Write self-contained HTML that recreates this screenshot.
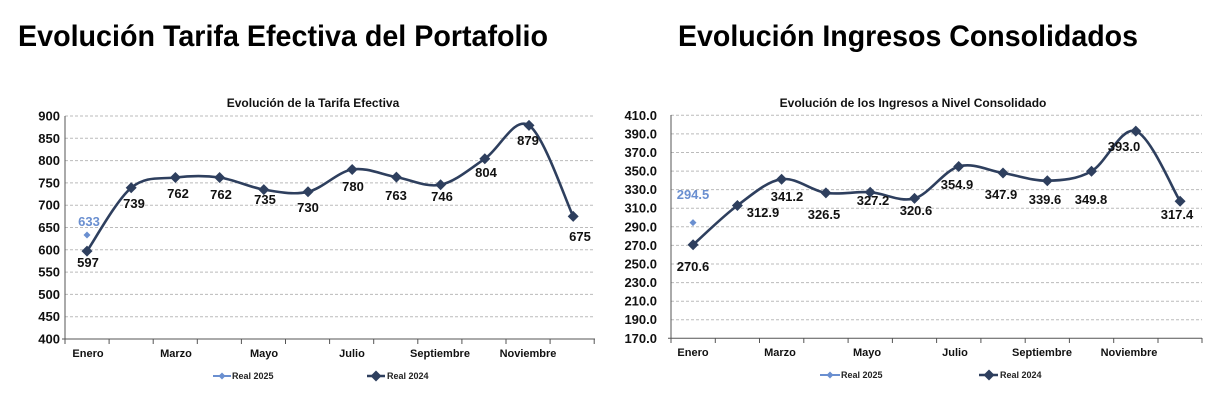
<!DOCTYPE html>
<html><head><meta charset="utf-8"><style>
html,body{margin:0;padding:0;background:#fff}
svg{display:block;font-family:"Liberation Sans",Arial,sans-serif}
.big{font-size:30px;font-weight:bold;fill:#000}
.ct{font-size:12px;font-weight:bold;fill:#111;text-anchor:middle}
.yl{font-size:13px;font-weight:bold;fill:#111;text-anchor:end}
.xl{font-size:11px;font-weight:bold;fill:#111;text-anchor:middle}
.dl{font-size:13px;font-weight:bold;fill:#111;text-anchor:middle}
.bl{font-size:13px;font-weight:bold;fill:#6A8FD0;text-anchor:middle}
.lg{font-size:9px;font-weight:bold;fill:#222}
.g{stroke:#bbb;stroke-width:1;stroke-dasharray:3,2}
.ax{stroke:#555;stroke-width:1}
.ln{fill:none;stroke:#2E3F5E;stroke-width:2.6}
.d{fill:#2E3F5E}
</style></head><body>
<svg width="1218" height="408" viewBox="0 0 1218 408">
<defs><path id="dm" d="M0,-5.5 L5.5,0 L0,5.5 L-5.5,0Z"/><path id="ds" d="M0,-3.5 L3.5,0 L0,3.5 L-3.5,0Z"/></defs>
<text class="big" x="18" y="46" textLength="530" lengthAdjust="spacingAndGlyphs">Evolución Tarifa Efectiva del Portafolio</text>
<text class="big" x="678" y="46" textLength="460" lengthAdjust="spacingAndGlyphs">Evolución Ingresos Consolidados</text>

<!-- LEFT CHART -->
<text class="ct" x="313" y="107">Evolución de la Tarifa Efectiva</text>
<g>
<line class="g" x1="65" x2="595" y1="116" y2="116"/><line class="g" x1="65" x2="595" y1="138.3" y2="138.3"/><line class="g" x1="65" x2="595" y1="160.6" y2="160.6"/><line class="g" x1="65" x2="595" y1="182.9" y2="182.9"/><line class="g" x1="65" x2="595" y1="205.2" y2="205.2"/><line class="g" x1="65" x2="595" y1="227.5" y2="227.5"/><line class="g" x1="65" x2="595" y1="249.8" y2="249.8"/><line class="g" x1="65" x2="595" y1="272.1" y2="272.1"/><line class="g" x1="65" x2="595" y1="294.4" y2="294.4"/><line class="g" x1="65" x2="595" y1="316.7" y2="316.7"/>
<line class="ax" x1="65" x2="65" y1="116" y2="339"/><line class="ax" x1="62" x2="595" y1="339" y2="339"/>
<g class="ax"><line x1="65" x2="65" y1="339" y2="344"/><line x1="109.1" x2="109.1" y1="339" y2="344"/><line x1="153.2" x2="153.2" y1="339" y2="344"/><line x1="197.3" x2="197.3" y1="339" y2="344"/><line x1="241.4" x2="241.4" y1="339" y2="344"/><line x1="285.5" x2="285.5" y1="339" y2="344"/><line x1="329.6" x2="329.6" y1="339" y2="344"/><line x1="373.7" x2="373.7" y1="339" y2="344"/><line x1="417.8" x2="417.8" y1="339" y2="344"/><line x1="461.9" x2="461.9" y1="339" y2="344"/><line x1="506" x2="506" y1="339" y2="344"/><line x1="550.1" x2="550.1" y1="339" y2="344"/><line x1="594.2" x2="594.2" y1="339" y2="344"/></g>
<text class="yl" x="60" y="120.5">900</text><text class="yl" x="60" y="142.8">850</text><text class="yl" x="60" y="165.1">800</text><text class="yl" x="60" y="187.4">750</text><text class="yl" x="60" y="209.7">700</text><text class="yl" x="60" y="232">650</text><text class="yl" x="60" y="254.3">600</text><text class="yl" x="60" y="276.6">550</text><text class="yl" x="60" y="298.9">500</text><text class="yl" x="60" y="321.2">450</text><text class="yl" x="60" y="343.5">400</text>
<text class="xl" x="88" y="357">Enero</text><text class="xl" x="176" y="357">Marzo</text><text class="xl" x="264" y="357">Mayo</text><text class="xl" x="352" y="357">Julio</text><text class="xl" x="440" y="357">Septiembre</text><text class="xl" x="528" y="357">Noviembre</text>
<path class="ln" d="M87,251.1 C94.37,240.55 116.47,200.07 131.2,187.8 C145.93,175.53 160.67,179.22 175.4,177.5 C190.13,175.78 204.87,175.48 219.6,177.5 C234.33,179.52 249.07,187.22 263.8,189.6 C278.53,191.98 293.27,195.15 308,191.8 C322.73,188.45 337.47,171.95 352.2,169.5 C366.93,167.05 381.67,174.57 396.4,177.1 C411.13,179.63 425.87,187.75 440.6,184.7 C455.33,181.65 470.07,168.68 484.8,158.8 C499.53,148.92 514.27,115.8 529,125.4 C543.73,135 565.83,201.23 573.2,216.4"/>
<g class="d"><use href="#dm" x="87" y="251.1"/><use href="#dm" x="131.2" y="187.8"/><use href="#dm" x="175.4" y="177.5"/><use href="#dm" x="219.6" y="177.5"/><use href="#dm" x="263.8" y="189.6"/><use href="#dm" x="308" y="191.8"/><use href="#dm" x="352.2" y="169.5"/><use href="#dm" x="396.4" y="177.1"/><use href="#dm" x="440.6" y="184.7"/><use href="#dm" x="484.8" y="158.8"/><use href="#dm" x="529" y="125.4"/><use href="#dm" x="573.2" y="216.4"/></g>
<use href="#ds" x="87" y="235" fill="#6A8FD0"/>
<text class="bl" x="89" y="226">633</text>
<text class="dl" x="88" y="267">597</text><text class="dl" x="134" y="208">739</text><text class="dl" x="178" y="198">762</text><text class="dl" x="221" y="199">762</text><text class="dl" x="265" y="204">735</text><text class="dl" x="308" y="212">730</text><text class="dl" x="353" y="191">780</text><text class="dl" x="396" y="200">763</text><text class="dl" x="442" y="201">746</text><text class="dl" x="486" y="177">804</text><text class="dl" x="528" y="145">879</text><text class="dl" x="580" y="241">675</text>
<line x1="213" x2="231" y1="376" y2="376" stroke="#6A8FD0" stroke-width="2"/><use href="#ds" x="222" y="376" fill="#6A8FD0"/><text class="lg" x="232" y="379">Real 2025</text>
<line x1="367" x2="385" y1="376" y2="376" stroke="#2E3F5E" stroke-width="2.5"/><use href="#dm" x="376" y="376" fill="#2E3F5E"/><text class="lg" x="387" y="379">Real 2024</text>
</g>

<!-- RIGHT CHART -->
<text class="ct" x="913" y="107">Evolución de los Ingresos a Nivel Consolidado</text>
<g>
<line class="g" x1="671" x2="1202" y1="115.3" y2="115.3"/><line class="g" x1="671" x2="1202" y1="133.9" y2="133.9"/><line class="g" x1="671" x2="1202" y1="152.5" y2="152.5"/><line class="g" x1="671" x2="1202" y1="171.1" y2="171.1"/><line class="g" x1="671" x2="1202" y1="189.6" y2="189.6"/><line class="g" x1="671" x2="1202" y1="208.2" y2="208.2"/><line class="g" x1="671" x2="1202" y1="226.8" y2="226.8"/><line class="g" x1="671" x2="1202" y1="245.4" y2="245.4"/><line class="g" x1="671" x2="1202" y1="264" y2="264"/><line class="g" x1="671" x2="1202" y1="282.6" y2="282.6"/><line class="g" x1="671" x2="1202" y1="301.2" y2="301.2"/><line class="g" x1="671" x2="1202" y1="319.7" y2="319.7"/>
<line class="ax" x1="671" x2="671" y1="115" y2="338.3"/><line class="ax" x1="668" x2="1202" y1="338.3" y2="338.3"/>
<g class="ax"><line x1="671" x2="671" y1="338" y2="343"/><line x1="715.3" x2="715.3" y1="338" y2="343"/><line x1="759.5" x2="759.5" y1="338" y2="343"/><line x1="803.8" x2="803.8" y1="338" y2="343"/><line x1="848.1" x2="848.1" y1="338" y2="343"/><line x1="892.4" x2="892.4" y1="338" y2="343"/><line x1="936.6" x2="936.6" y1="338" y2="343"/><line x1="980.9" x2="980.9" y1="338" y2="343"/><line x1="1025.2" x2="1025.2" y1="338" y2="343"/><line x1="1069.4" x2="1069.4" y1="338" y2="343"/><line x1="1113.7" x2="1113.7" y1="338" y2="343"/><line x1="1158" x2="1158" y1="338" y2="343"/><line x1="1202" x2="1202" y1="338" y2="343"/></g>
<text class="yl" x="657" y="119.8">410.0</text><text class="yl" x="657" y="138.4">390.0</text><text class="yl" x="657" y="157">370.0</text><text class="yl" x="657" y="175.6">350.0</text><text class="yl" x="657" y="194.1">330.0</text><text class="yl" x="657" y="212.7">310.0</text><text class="yl" x="657" y="231.3">290.0</text><text class="yl" x="657" y="249.9">270.0</text><text class="yl" x="657" y="268.5">250.0</text><text class="yl" x="657" y="287.1">230.0</text><text class="yl" x="657" y="305.7">210.0</text><text class="yl" x="657" y="324.2">190.0</text><text class="yl" x="657" y="342.8">170.0</text>
<text class="xl" x="693" y="356">Enero</text><text class="xl" x="780" y="356">Marzo</text><text class="xl" x="867" y="356">Mayo</text><text class="xl" x="955" y="356">Julio</text><text class="xl" x="1042" y="356">Septiembre</text><text class="xl" x="1129" y="356">Noviembre</text>
<path class="ln" d="M693.1,244.8 C700.48,238.25 722.64,216.43 737.4,205.5 C752.16,194.57 766.84,181.3 781.6,179.2 C796.36,177.1 811.14,190.73 825.9,192.9 C840.66,195.07 855.44,191.28 870.2,192.2 C884.96,193.12 899.74,202.68 914.5,198.4 C929.26,194.12 943.94,170.73 958.7,166.5 C973.46,162.27 988.24,170.63 1003,173 C1017.76,175.37 1032.54,181 1047.3,180.7 C1062.06,180.4 1076.74,179.47 1091.5,171.2 C1106.26,162.93 1121.04,126.08 1135.8,131.1 C1150.56,136.12 1172.72,189.6 1180.1,201.3"/>
<g class="d"><use href="#dm" x="693.1" y="244.8"/><use href="#dm" x="737.4" y="205.5"/><use href="#dm" x="781.6" y="179.2"/><use href="#dm" x="825.9" y="192.9"/><use href="#dm" x="870.2" y="192.2"/><use href="#dm" x="914.5" y="198.4"/><use href="#dm" x="958.7" y="166.5"/><use href="#dm" x="1003" y="173"/><use href="#dm" x="1047.3" y="180.7"/><use href="#dm" x="1091.5" y="171.2"/><use href="#dm" x="1135.8" y="131.1"/><use href="#dm" x="1180.1" y="201.3"/></g>
<use href="#ds" x="693" y="222.6" fill="#6A8FD0"/>
<text class="bl" x="693" y="199">294.5</text>
<text class="dl" x="693" y="271">270.6</text><text class="dl" x="763" y="217">312.9</text><text class="dl" x="787" y="201">341.2</text><text class="dl" x="824" y="219">326.5</text><text class="dl" x="873" y="205">327.2</text><text class="dl" x="916" y="215">320.6</text><text class="dl" x="957" y="189">354.9</text><text class="dl" x="1001" y="199">347.9</text><text class="dl" x="1045" y="204">339.6</text><text class="dl" x="1091" y="204">349.8</text><text class="dl" x="1124" y="151">393.0</text><text class="dl" x="1177" y="219">317.4</text>
<line x1="820" x2="840" y1="375" y2="375" stroke="#6A8FD0" stroke-width="2"/><use href="#ds" x="830" y="375" fill="#6A8FD0"/><text class="lg" x="841" y="378">Real 2025</text>
<line x1="979" x2="998" y1="375" y2="375" stroke="#2E3F5E" stroke-width="2.5"/><use href="#dm" x="989" y="375" fill="#2E3F5E"/><text class="lg" x="1000" y="378">Real 2024</text>
</g>
</svg>
</body></html>
